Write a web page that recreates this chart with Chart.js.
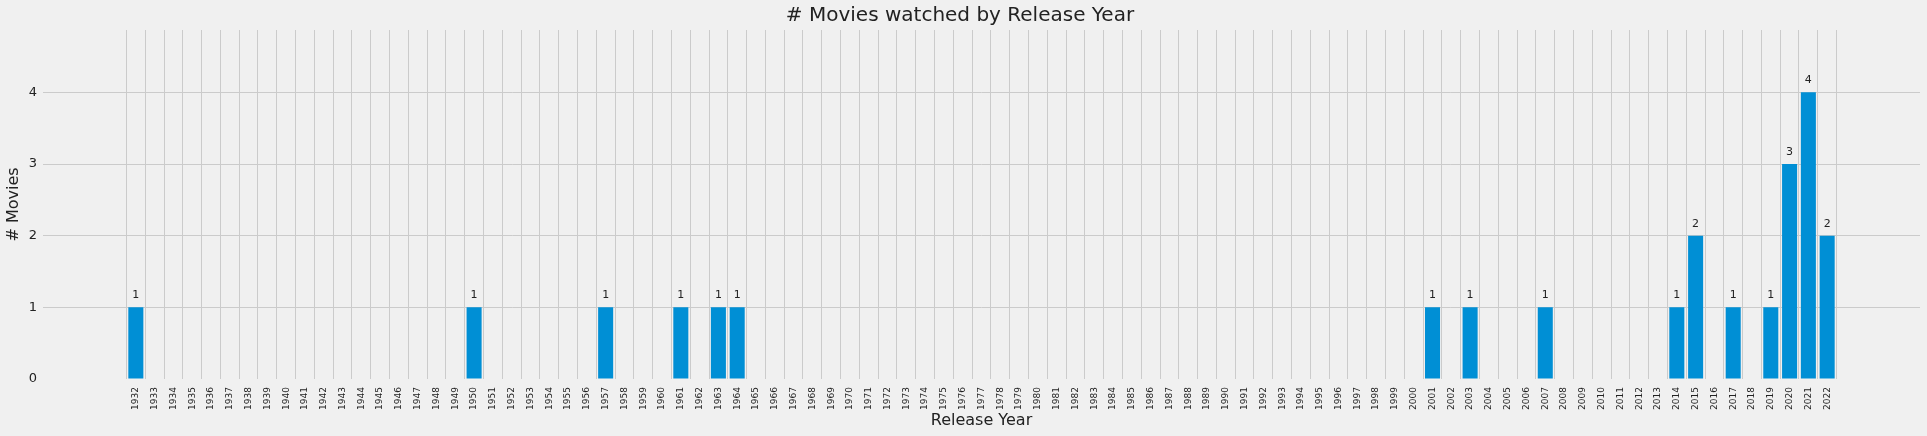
<!DOCTYPE html>
<html>
<head>
<meta charset="utf-8">
<script src="https://cdn.jsdelivr.net/npm/chart.js@4.4.1/dist/chart.umd.min.js"></script>
<style>
    html, body { margin: 0; padding: 0; background: #f0f0f0; }
    #grafico { display: block; }
</style>
</head>
<body>
<canvas id="grafico" width="1927" height="436"></canvas>
<script>
// Anos de lançamento com pelo menos um filme assistido
const anosLancamento = [1932, 1950, 1957, 1961, 1963, 1964, 2001, 2003, 2007, 2014, 2015, 2017, 2019, 2020, 2021, 2022];
// Quantidade de filmes por ano
const qtdFilmes = [1, 1, 1, 1, 1, 1, 1, 1, 1, 1, 2, 1, 1, 3, 4, 2];

// Rótulos do eixo X (todos os anos)
const anosEixo = [
    1932, 1933, 1934, 1935, 1936, 1937, 1938, 1939, 1940, 1941, 1942, 1943, 1944, 1945, 1946, 1947,
    1948, 1949, 1950, 1951, 1952, 1953, 1954, 1955, 1956, 1957, 1958, 1959, 1960, 1961, 1962, 1963,
    1964, 1965, 1966, 1967, 1968, 1969, 1970, 1971, 1972, 1973, 1974, 1975, 1976, 1977, 1978, 1979,
    1980, 1981, 1982, 1983, 1984, 1985, 1986, 1987, 1988, 1989, 1990, 1991, 1992, 1993, 1994, 1995,
    1996, 1997, 1998, 1999, 2000, 2001, 2002, 2003, 2004, 2005, 2006, 2007, 2008, 2009, 2010, 2011,
    2012, 2013, 2014, 2015, 2016, 2017, 2018, 2019, 2020, 2021, 2022
];
// Rótulos do eixo Y
const ticksY = [0, 1, 2, 3, 4];

const corGrade = '#cbcbcb';
const corTexto = '#222222';

// Fundo cinza do estilo fivethirtyeight
const fundo = {
    id: 'fundo',
    beforeDraw(chart) {
        const c = chart.ctx;
        c.save();
        c.fillStyle = '#f0f0f0';
        c.fillRect(0, 0, chart.width, chart.height);
        c.restore();
    }
};

// Escreve o valor acima de cada barra
const rotulosBarras = {
    id: 'rotulosBarras',
    afterDatasetsDraw(chart) {
        const c = chart.ctx;
        const meta = chart.getDatasetMeta(0);
        c.save();
        c.font = '11px "DejaVu Sans"';
        c.fillStyle = corTexto;
        c.textAlign = 'center';
        c.textBaseline = 'alphabetic';
        meta.data.forEach((barra, i) => {
            c.fillText(String(qtdFilmes[i]), barra.x, barra.y - 9);
        });
        c.restore();
    }
};

const ctx = document.getElementById('grafico').getContext('2d');

new Chart(ctx, {
    type: 'bar',
    data: {
        datasets: [{
            label: '# Movies',
            data: anosLancamento.map((ano, i) => ({ x: ano, y: qtdFilmes[i] })),
            backgroundColor: '#008fd5',
            borderWidth: 0,
            barPercentage: 0.8,
            categoryPercentage: 1.0
        }]
    },
    options: {
        responsive: false,
        animation: false,
        devicePixelRatio: 1,
        layout: { padding: { left: 0, right: 7, top: 0, bottom: 0 } },
        plugins: {
            legend: { display: false },
            tooltip: { enabled: false },
            title: {
                display: true,
                text: '# Movies watched by Release Year',
                color: corTexto,
                font: { family: 'DejaVu Sans', size: 20, weight: 'normal' },
                padding: { top: 4, bottom: 2 }
            }
        },
        scales: {
            x: {
                type: 'linear',
                min: 1927.06,
                max: 2026.94,
                offset: false,
                afterBuildTicks: (scale) => { scale.ticks = anosEixo.map(v => ({ value: v })); },
                afterFit: (scale) => { scale.height = 57; },
                ticks: {
                    autoSkip: false,
                    maxRotation: 90,
                    minRotation: 90,
                    padding: 8,
                    color: corTexto,
                    font: { family: 'DejaVu Sans', size: 9 },
                    callback: (v) => String(v)
                },
                grid: { color: corGrade, lineWidth: 1, drawTicks: false },
                border: { display: false },
                title: {
                    display: true,
                    text: 'Release Year',
                    color: corTexto,
                    font: { family: 'DejaVu Sans', size: 16 },
                    padding: { top: 0, bottom: 6 }
                }
            },
            y: {
                min: 0,
                max: 4.87,
                afterBuildTicks: (scale) => { scale.ticks = ticksY.map(v => ({ value: v })); },
                afterFit: (scale) => { scale.width = 43; },
                ticks: {
                    padding: 6,
                    color: corTexto,
                    font: { family: 'DejaVu Sans', size: 13 }
                },
                grid: {
                    color: (c) => (c.tick && c.tick.value === 0 ? 'rgba(0,0,0,0)' : corGrade),
                    lineWidth: 1,
                    drawTicks: false
                },
                border: { display: false },
                title: {
                    display: true,
                    text: '# Movies',
                    color: corTexto,
                    font: { family: 'DejaVu Sans', size: 16 },
                    padding: { top: 4, bottom: 0 }
                }
            }
        }
    },
    plugins: [fundo, rotulosBarras]
});
</script>
</body>
</html>
